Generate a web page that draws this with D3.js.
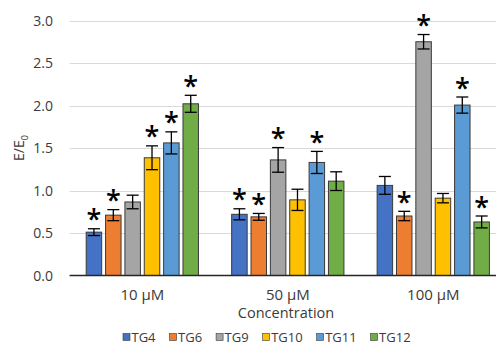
<!DOCTYPE html>
<html>
<head>
<meta charset="utf-8">
<script src="https://cdn.jsdelivr.net/npm/d3@7"></script>
<style>
  body { margin: 0; background: #fff; }
  svg { display: block; font-family: "Open Sans", sans-serif; }
</style>
</head>
<body>
<div id="chart"></div>
<script>
// chart data
var categories = ["10 µM", "50 µM", "100 µM"];
var series = ["TG4", "TG6", "TG9", "TG10", "TG11", "TG12"];
var colors = ["#4472C4", "#ED7D31", "#A5A5A5", "#FFC000", "#5B9BD5", "#70AD47"];
// values per series, one per category
var tg4 = [0.51, 0.72, 1.06];
var tg6 = [0.71, 0.69, 0.70];
var tg9 = [0.865, 1.36, 2.75];
var tg10 = [1.385, 0.89, 0.91];
var tg11 = [1.56, 1.33, 2.005];
var tg12 = [2.02, 1.11, 0.63];
// error (+/-)
var err4 = [0.04, 0.065, 0.105];
var err6 = [0.065, 0.04, 0.055];
var err9 = [0.08, 0.145, 0.085];
var err10 = [0.14, 0.125, 0.055];
var err11 = [0.13, 0.13, 0.095];
var err12 = [0.10, 0.11, 0.07];
// significance stars
var star4 = [1, 1, 0];
var star6 = [1, 1, 1];
var star9 = [0, 1, 1];
var star10 = [1, 0, 0];
var star11 = [1, 1, 1];
var star12 = [1, 0, 1];
var yTicks = [0, 0.5, 1.0, 1.5, 2.0, 2.5, 3.0];

var values = [tg4, tg6, tg9, tg10, tg11, tg12];
var errors = [err4, err6, err9, err10, err11, err12];
var stars = [star4, star6, star9, star10, star11, star12];

var w = 496, h = 345;
var margin = { top: 20.5, left: 69.6, bottom: 69.5 };
var plotRight = 506;

var svg = d3.select("#chart").append("svg")
    .attr("width", w)
    .attr("height", h);

var x0 = d3.scaleBand().domain(categories).range([margin.left, plotRight]);
var x1 = d3.scaleBand().domain(series)
    .range([16.6, x0.bandwidth() - 16.6])
    .paddingInner(0.2);
var y = d3.scaleLinear().domain([0, 3]).range([h - margin.bottom, margin.top]);

// gridlines
svg.append("g").selectAll("line")
    .data(yTicks.slice(1))
    .enter().append("line")
    .attr("x1", margin.left).attr("x2", plotRight)
    .attr("y1", function (d) { return Math.round(y(d)) + 0.5; })
    .attr("y2", function (d) { return Math.round(y(d)) + 0.5; })
    .attr("stroke", "#d9d9d9").attr("stroke-width", 1);

// y tick labels
svg.append("g").selectAll("text")
    .data(yTicks)
    .enter().append("text")
    .attr("x", 53)
    .attr("y", function (d) { return y(d); })
    .attr("dy", "0.36em")
    .attr("text-anchor", "end")
    .style("font-size", "14px")
    .style("fill", "#3a3a3a")
    .text(function (d) { return d3.format(".1f")(d); });

// y title
svg.append("text")
    .attr("transform", "translate(24," + (y(1.5)) + ") rotate(-90)")
    .attr("text-anchor", "middle")
    .style("font-size", "14px")
    .style("fill", "#3a3a3a")
    .html('E/E<tspan dy="4" font-size="9px">0</tspan>');

// flatten
var bars = [];
series.forEach(function (s, i) {
    categories.forEach(function (c, j) {
        bars.push({ s: s, c: c, i: i, v: values[i][j], e: errors[i][j], star: stars[i][j] });
    });
});

var g = svg.append("g");
g.selectAll(".bar")
    .data(bars)
    .enter().append("rect")
    .attr("class", "bar")
    .attr("x", function (d) { return x0(d.c) + x1(d.s); })
    .attr("y", function (d) { return y(d.v); })
    .attr("width", x1.bandwidth())
    .attr("height", function (d) { return y(0) - y(d.v); })
    .attr("fill", function (d) { return colors[d.i]; })
    .attr("stroke", "#3a3a3a")
    .attr("stroke-width", 1);

// x axis line
svg.append("line")
    .attr("x1", margin.left).attr("x2", plotRight)
    .attr("y1", y(0)).attr("y2", y(0))
    .attr("stroke", "#262626").attr("stroke-width", 1.3);

// error bars
var capW = 6;
var eb = svg.append("g").attr("stroke", "#000").attr("stroke-width", 1.3);
bars.forEach(function (d) {
    var cx = x0(d.c) + x1(d.s) + x1.bandwidth() / 2;
    var yt = y(d.v + d.e), yb = y(d.v - d.e);
    eb.append("line").attr("x1", cx).attr("x2", cx).attr("y1", yt).attr("y2", yb);
    eb.append("line").attr("x1", cx - capW).attr("x2", cx + capW).attr("y1", yt).attr("y2", yt);
    eb.append("line").attr("x1", cx - capW).attr("x2", cx + capW).attr("y1", yb).attr("y2", yb);
});

// stars
svg.append("g").selectAll("text")
    .data(bars.filter(function (d) { return d.star; }))
    .enter().append("text")
    .attr("x", function (d) { return x0(d.c) + x1(d.s) + x1.bandwidth() / 2; })
    .attr("y", function (d) { return y(d.v + d.e) + 0.5; })
    .attr("text-anchor", "middle")
    .style("font-size", "27px")
    .style("font-weight", "600")
    .style("fill", "#000")
    .text("*");

// category labels
svg.append("g").selectAll("text")
    .data(categories)
    .enter().append("text")
    .attr("x", function (d) { return x0(d) + x0.bandwidth() / 2; })
    .attr("y", 300)
    .attr("text-anchor", "middle")
    .style("font-size", "15px")
    .style("fill", "#3a3a3a")
    .text(function (d) { return d; });

// x title
svg.append("text")
    .attr("x", 286)
    .attr("y", 318)
    .attr("text-anchor", "middle")
    .style("font-size", "14.5px")
    .style("fill", "#3a3a3a")
    .text("Concentration");

// legend
var legend = svg.append("g");
var lx = 123;
series.forEach(function (s, i) {
    var item = legend.append("g").attr("transform", "translate(" + lx + ",337)");
    item.append("rect")
        .attr("x", 0).attr("y", -3.5)
        .attr("width", 7).attr("height", 7)
        .attr("fill", colors[i])
        .attr("stroke", "#3a3a3a").attr("stroke-width", 0.6);
    var t = item.append("text")
        .attr("x", 8.5).attr("y", 0).attr("dy", "0.36em")
        .style("font-size", "13px")
        .style("fill", "#3a3a3a")
        .text(s);
    lx += 8.5 + t.node().getComputedTextLength() + 14;
});
</script>
</body>
</html>
